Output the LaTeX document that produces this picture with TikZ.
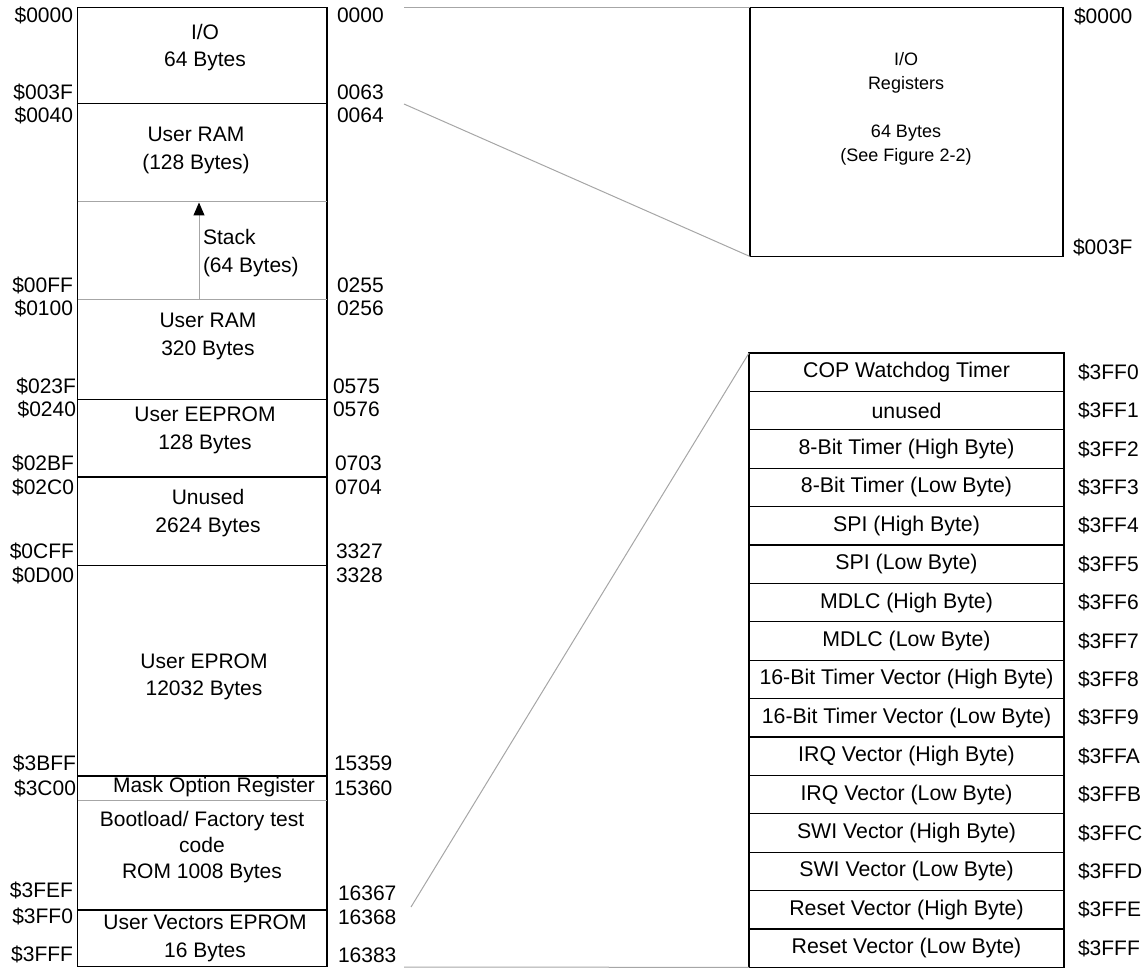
\documentclass[tikz,border=0pt]{standalone}
\usepackage{fontspec}
\setmainfont{Liberation Sans}
\usetikzlibrary{arrows.meta}
\begin{document}
\begin{tikzpicture}[x=1pt,y=-1pt,
  every node/.style={inner sep=0pt,outer sep=0pt},
  txt/.style={font=\fontsize{21}{27.5}\selectfont, align=center},
  lab/.style={font=\fontsize{21}{24}\selectfont},
  blk/.style={draw=black,line width=1.2pt},
  gry/.style={draw=black!35,line width=1pt},
  cell/.style={draw=black,line width=1.2pt,minimum width=315pt,minimum height=38.4pt,
    font=\fontsize{21.3}{24}\selectfont}]
\useasboundingbox (0,0) rectangle (1147,968);

% ---------- left memory map ----------
\node[blk,minimum width=249.5pt,minimum height=959pt,anchor=north west] (mem) at (77.5,7.5) {};
\foreach \y in {103.5,399.7,477,565.7,776,910}
  \draw[blk] (77.5,\y) -- (327,\y);
\foreach \y in {201.7,299,800.3}
  \draw[gry] (77.5,\y) -- (327,\y);

\node[txt] (rio)   at (205,47.5)  {I/O\\64 Bytes};
\node[txt] (rram1) at (196,150.5) {User RAM\\(128 Bytes)};
\node[txt,anchor=west,align=left] (rstack) at (203,253) {Stack\\(64 Bytes)};
\node[txt] (rram2) at (208,336.5) {User RAM\\320 Bytes};
\node[txt] (reep)  at (205,430.5) {User EEPROM\\128 Bytes};
\node[txt] (runu)  at (208,513)   {Unused\\2624 Bytes};
\node[txt] (repr)  at (204,677)   {User EPROM\\12032 Bytes};
\node[txt] (rmask) at (214,787)   {Mask Option Register};
\node[txt,font=\fontsize{21}{26}\selectfont] (rboot) at (202,847.5) {Bootload/ Factory test\\code\\ROM 1008 Bytes};
\node[txt] (rvec)  at (205,938.5) {User Vectors EPROM\\16 Bytes};

\coordinate (sbot) at (199,298.5);
\coordinate (stop) at (199,202.5);
\draw[gry,-{Triangle[length=13pt,width=11pt,color=black]}] (sbot) -- (stop);

% left addresses (hex)
\foreach \t/\y/\x in {0000/15/73,003F/92/73,0040/115/73,00FF/285/73,0100/308/73,
  023F/386/76,0240/409/76,02BF/463/74,02C0/487/74,0CFF/551/74,0D00/575/74,
  3BFF/763/76,3C00/788/76,3FEF/890/73,3FF0/916/73,3FFF/954/73}
  \node[lab,anchor=east] (h\t) at (\x,\y) {\$\t};
% right addresses (decimal)
\foreach \t/\y/\x in {0000/15/337,0063/92/337,0064/115/337,0255/285/337,0256/308/337,
  0575/386/333,0576/409/333,0703/463/335,0704/487/335,3327/551/336,3328/575/336,
  15359/763/334,15360/788/334,16367/893/338,16368/917/338,16383/955/338}
  \node[lab,anchor=west] (d\t) at (\x,\y) {\t};

% ---------- I/O registers box ----------
\node[blk,minimum width=313pt,minimum height=249pt,anchor=north west] (iobox) at (750,7.5) {};
\node[align=center,font=\fontsize{18}{24}\selectfont] (iotxt) at (906,109)
  {I/O\\Registers\\[24pt]64 Bytes\\(See Figure 2-2)};
\node[lab,anchor=west] (io0) at (1074,16) {\$0000};
\node[lab,anchor=west] (io1) at (1073,247) {\$003F};

% ---------- vector table ----------
\foreach \i/\t/\a in {0/COP Watchdog Timer/0,1/unused/1,2/8-Bit Timer (High Byte)/2,
  3/8-Bit Timer (Low Byte)/3,4/SPI (High Byte)/4,5/SPI (Low Byte)/5,
  6/MDLC (High Byte)/6,7/MDLC (Low Byte)/7,8/16-Bit Timer Vector (High Byte)/8,
  9/16-Bit Timer Vector (Low Byte)/9,10/IRQ Vector (High Byte)/A,11/IRQ Vector (Low Byte)/B,
  12/SWI Vector (High Byte)/C,13/SWI Vector (Low Byte)/D,14/Reset Vector (High Byte)/E,
  15/Reset Vector (Low Byte)/F}
{
  \node[cell,anchor=north west] (v\i) at (749,353+38.4*\i) {\t};
  \node[lab,anchor=west] (va\i) at (1078,372.2+38.4*\i) {\$3FF\a};
}

% ---------- connectors ----------
\coordinate (c1) at (404,7.5);
\coordinate (c2) at (404,104);
\coordinate (c3) at (411,907);
\coordinate (c4) at (404,967);
\draw[gry] (c1) -- (iobox.north west);
\draw[gry] (c2) -- (iobox.south west);
\draw[gry] (c3) -- (v0.north west);
\draw[gry] (c4) -- (v15.south west);
\end{tikzpicture}
\end{document}
